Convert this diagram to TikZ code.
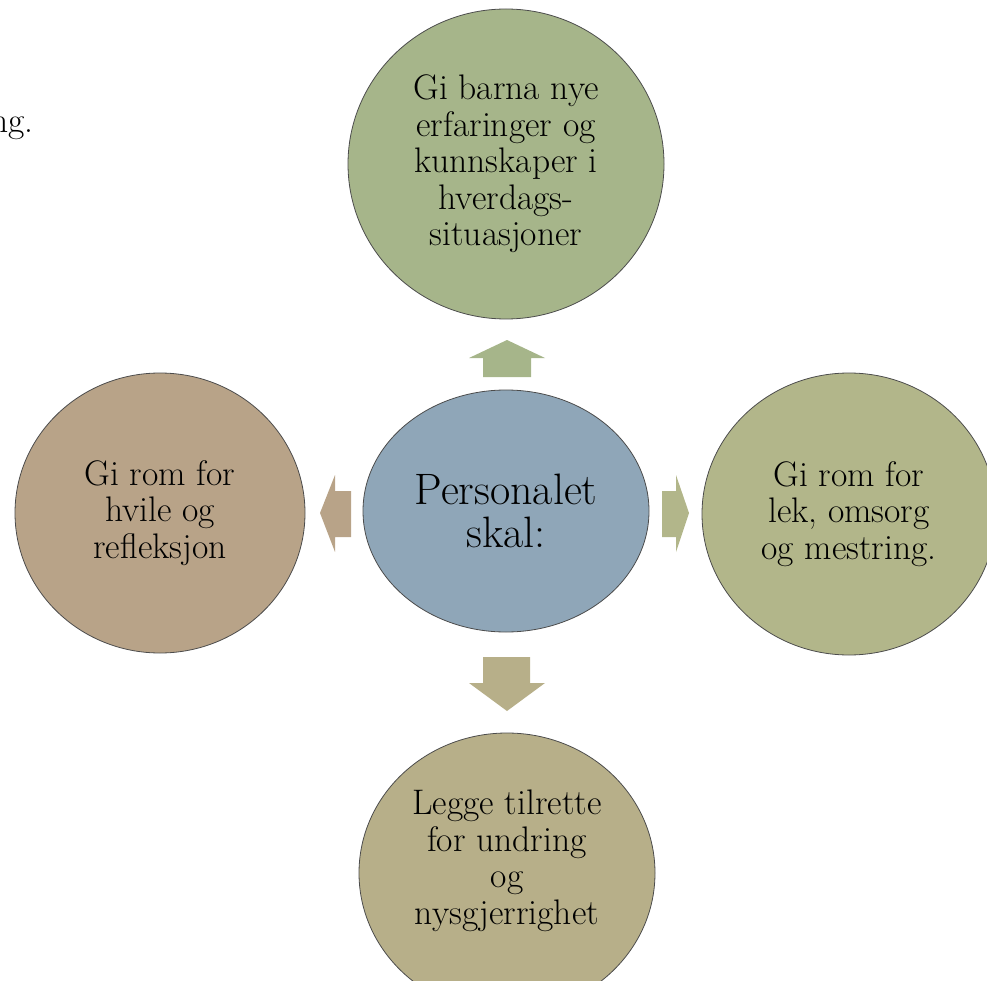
\documentclass[tikz,border=0pt]{standalone}
\usetikzlibrary{shapes.geometric}
\definecolor{cTop}{RGB}{166,181,138}
\definecolor{cMid}{RGB}{143,166,184}
\definecolor{cLeft}{RGB}{184,163,136}
\definecolor{cRight}{RGB}{178,182,138}
\definecolor{cBot}{RGB}{183,175,137}
\tikzset{
  bubble/.style={ellipse, draw=black!70, line width=0.8pt, align=center, inner sep=0pt,
    font=\fontsize{35.5}{36.5}\selectfont}
}
\begin{document}
\begin{tikzpicture}[x=1pt,y=-1pt]
\useasboundingbox (0,0) rectangle (987,981);
\begin{scope}
\clip (0,0) rectangle (987,981);
% stray text from page
\node[anchor=base east, inner sep=0pt, font=\fontsize{35.5}{36.5}\selectfont] (stray) at (34,133) {ng.};
% circles
\node[bubble, fill=cTop, minimum width=316pt, minimum height=310pt] (top) at (506,164)
  {Gi barna nye\\erfaringer og\\kunnskaper i\\hverdags-\\situasjoner};
\node[bubble, fill=cMid, minimum width=286pt, minimum height=242pt,
  font=\fontsize{44}{43}\selectfont] (mid) at (506,511) {Personalet\\skal:};
\node[bubble, fill=cLeft, minimum width=290pt, minimum height=280pt] (left) at (160,513)
  {Gi rom for\\hvile og\\refleksjon};
\node[bubble, fill=cRight, minimum width=294pt, minimum height=282pt] (right) at (849,514)
  {Gi rom for\\lek, omsorg\\og mestring.};
\node[bubble, fill=cBot, minimum width=296pt, minimum height=280pt] (bot) at (507,873) {};
\node[align=center, inner sep=0pt, font=\fontsize{35.5}{36.5}\selectfont] (bottext) at (507,861)
  {Legge tilrette\\for undring\\og\\nysgjerrighet};
% block arrows
\fill[cTop] (507,340) -- (545,358) -- (531,358) -- (531,377) -- (483,377) -- (483,358) -- (469,358) -- cycle;
\fill[cLeft] (320,513) -- (335,475) -- (335,491) -- (351,491) -- (351,537) -- (335,537) -- (335,552) -- cycle;
\fill[cRight] (689,513) -- (676,475) -- (676,491) -- (662,491) -- (662,537) -- (676,537) -- (676,552) -- cycle;
\fill[cBot] (507,711) -- (545,683) -- (530,683) -- (530,657) -- (483,657) -- (483,683) -- (469,683) -- cycle;
\end{scope}
\end{tikzpicture}
\end{document}
